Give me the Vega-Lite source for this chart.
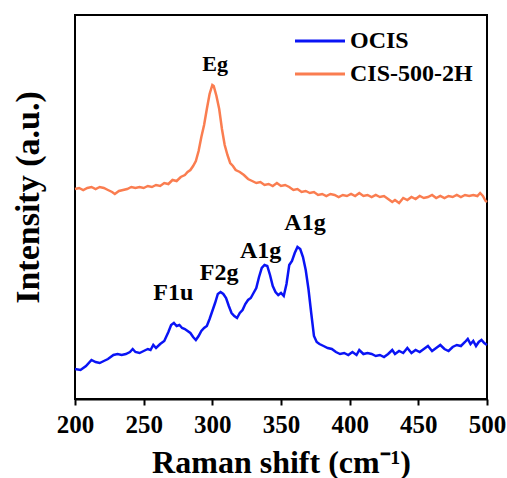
{
  "$schema": "https://vega.github.io/schema/vega-lite/v6.json",
  "width": 412,
  "height": 384,
  "autosize": {"type": "none"},
  "padding": {"left": 75, "top": 15, "right": 20, "bottom": 79},
  "background": "white",
  "config": {
    "view": {"stroke": "black", "strokeWidth": 2},
    "font": "Liberation Serif",
    "axis": {"grid": false}
  },
  "datasets": {
    "spectra": [
      {"shift":200,"intensity":210,"sample":"CIS-500-2H"},{"shift":203,"intensity":211,"sample":"CIS-500-2H"},{"shift":206,"intensity":209,"sample":"CIS-500-2H"},{"shift":209,"intensity":211,"sample":"CIS-500-2H"},{"shift":212,"intensity":212,"sample":"CIS-500-2H"},{"shift":215,"intensity":210,"sample":"CIS-500-2H"},{"shift":218,"intensity":212,"sample":"CIS-500-2H"},{"shift":221,"intensity":211,"sample":"CIS-500-2H"},{"shift":224,"intensity":209,"sample":"CIS-500-2H"},{"shift":227,"intensity":207,"sample":"CIS-500-2H"},{"shift":229,"intensity":205,"sample":"CIS-500-2H"},{"shift":232,"intensity":208,"sample":"CIS-500-2H"},{"shift":235,"intensity":209,"sample":"CIS-500-2H"},{"shift":238,"intensity":210,"sample":"CIS-500-2H"},{"shift":241,"intensity":212,"sample":"CIS-500-2H"},{"shift":244,"intensity":211,"sample":"CIS-500-2H"},{"shift":247,"intensity":212,"sample":"CIS-500-2H"},{"shift":250,"intensity":211,"sample":"CIS-500-2H"},{"shift":253,"intensity":213,"sample":"CIS-500-2H"},{"shift":256,"intensity":212,"sample":"CIS-500-2H"},{"shift":259,"intensity":214,"sample":"CIS-500-2H"},{"shift":262,"intensity":213,"sample":"CIS-500-2H"},{"shift":265,"intensity":216,"sample":"CIS-500-2H"},{"shift":268,"intensity":215,"sample":"CIS-500-2H"},{"shift":271,"intensity":219,"sample":"CIS-500-2H"},{"shift":274,"intensity":218,"sample":"CIS-500-2H"},{"shift":277,"intensity":222,"sample":"CIS-500-2H"},{"shift":280,"intensity":224,"sample":"CIS-500-2H"},{"shift":282,"intensity":227,"sample":"CIS-500-2H"},{"shift":284,"intensity":229,"sample":"CIS-500-2H"},{"shift":286,"intensity":233,"sample":"CIS-500-2H"},{"shift":288,"intensity":238,"sample":"CIS-500-2H"},{"shift":290,"intensity":248,"sample":"CIS-500-2H"},{"shift":292,"intensity":262,"sample":"CIS-500-2H"},{"shift":294,"intensity":274,"sample":"CIS-500-2H"},{"shift":296,"intensity":290,"sample":"CIS-500-2H"},{"shift":298,"intensity":305,"sample":"CIS-500-2H"},{"shift":300,"intensity":314,"sample":"CIS-500-2H"},{"shift":301,"intensity":313,"sample":"CIS-500-2H"},{"shift":303,"intensity":303,"sample":"CIS-500-2H"},{"shift":305,"intensity":290,"sample":"CIS-500-2H"},{"shift":307,"intensity":270,"sample":"CIS-500-2H"},{"shift":309,"intensity":254,"sample":"CIS-500-2H"},{"shift":311,"intensity":244,"sample":"CIS-500-2H"},{"shift":313,"intensity":236,"sample":"CIS-500-2H"},{"shift":315,"intensity":233,"sample":"CIS-500-2H"},{"shift":317,"intensity":229,"sample":"CIS-500-2H"},{"shift":320,"intensity":227,"sample":"CIS-500-2H"},{"shift":323,"intensity":224,"sample":"CIS-500-2H"},{"shift":326,"intensity":220,"sample":"CIS-500-2H"},{"shift":329,"intensity":218,"sample":"CIS-500-2H"},{"shift":332,"intensity":216,"sample":"CIS-500-2H"},{"shift":335,"intensity":217,"sample":"CIS-500-2H"},{"shift":338,"intensity":214,"sample":"CIS-500-2H"},{"shift":341,"intensity":215,"sample":"CIS-500-2H"},{"shift":344,"intensity":213,"sample":"CIS-500-2H"},{"shift":347,"intensity":216,"sample":"CIS-500-2H"},{"shift":350,"intensity":213,"sample":"CIS-500-2H"},{"shift":353,"intensity":214,"sample":"CIS-500-2H"},{"shift":356,"intensity":212,"sample":"CIS-500-2H"},{"shift":359,"intensity":209,"sample":"CIS-500-2H"},{"shift":362,"intensity":210,"sample":"CIS-500-2H"},{"shift":365,"intensity":207,"sample":"CIS-500-2H"},{"shift":368,"intensity":208,"sample":"CIS-500-2H"},{"shift":371,"intensity":206,"sample":"CIS-500-2H"},{"shift":374,"intensity":207,"sample":"CIS-500-2H"},{"shift":377,"intensity":204,"sample":"CIS-500-2H"},{"shift":380,"intensity":205,"sample":"CIS-500-2H"},{"shift":383,"intensity":203,"sample":"CIS-500-2H"},{"shift":386,"intensity":205,"sample":"CIS-500-2H"},{"shift":389,"intensity":204,"sample":"CIS-500-2H"},{"shift":392,"intensity":202,"sample":"CIS-500-2H"},{"shift":395,"intensity":204,"sample":"CIS-500-2H"},{"shift":398,"intensity":203,"sample":"CIS-500-2H"},{"shift":401,"intensity":205,"sample":"CIS-500-2H"},{"shift":404,"intensity":203,"sample":"CIS-500-2H"},{"shift":407,"intensity":206,"sample":"CIS-500-2H"},{"shift":410,"intensity":203,"sample":"CIS-500-2H"},{"shift":413,"intensity":204,"sample":"CIS-500-2H"},{"shift":416,"intensity":202,"sample":"CIS-500-2H"},{"shift":419,"intensity":204,"sample":"CIS-500-2H"},{"shift":422,"intensity":202,"sample":"CIS-500-2H"},{"shift":425,"intensity":203,"sample":"CIS-500-2H"},{"shift":428,"intensity":200,"sample":"CIS-500-2H"},{"shift":431,"intensity":197,"sample":"CIS-500-2H"},{"shift":433,"intensity":199,"sample":"CIS-500-2H"},{"shift":436,"intensity":196,"sample":"CIS-500-2H"},{"shift":439,"intensity":201,"sample":"CIS-500-2H"},{"shift":442,"intensity":199,"sample":"CIS-500-2H"},{"shift":445,"intensity":202,"sample":"CIS-500-2H"},{"shift":448,"intensity":200,"sample":"CIS-500-2H"},{"shift":451,"intensity":203,"sample":"CIS-500-2H"},{"shift":454,"intensity":201,"sample":"CIS-500-2H"},{"shift":457,"intensity":202,"sample":"CIS-500-2H"},{"shift":460,"intensity":204,"sample":"CIS-500-2H"},{"shift":463,"intensity":201,"sample":"CIS-500-2H"},{"shift":466,"intensity":203,"sample":"CIS-500-2H"},{"shift":469,"intensity":201,"sample":"CIS-500-2H"},{"shift":472,"intensity":203,"sample":"CIS-500-2H"},{"shift":475,"intensity":202,"sample":"CIS-500-2H"},{"shift":478,"intensity":204,"sample":"CIS-500-2H"},{"shift":481,"intensity":202,"sample":"CIS-500-2H"},{"shift":484,"intensity":204,"sample":"CIS-500-2H"},{"shift":487,"intensity":203,"sample":"CIS-500-2H"},{"shift":490,"intensity":204,"sample":"CIS-500-2H"},{"shift":493,"intensity":203,"sample":"CIS-500-2H"},{"shift":495,"intensity":206,"sample":"CIS-500-2H"},{"shift":497,"intensity":203,"sample":"CIS-500-2H"},{"shift":499,"intensity":198,"sample":"CIS-500-2H"},{"shift":500,"intensity":197,"sample":"CIS-500-2H"},
      {"shift":200,"intensity":30,"sample":"OCIS"},{"shift":204,"intensity":29,"sample":"OCIS"},{"shift":208,"intensity":33,"sample":"OCIS"},{"shift":212,"intensity":39,"sample":"OCIS"},{"shift":215,"intensity":37,"sample":"OCIS"},{"shift":218,"intensity":36,"sample":"OCIS"},{"shift":221,"intensity":38,"sample":"OCIS"},{"shift":224,"intensity":40,"sample":"OCIS"},{"shift":228,"intensity":44,"sample":"OCIS"},{"shift":231,"intensity":45,"sample":"OCIS"},{"shift":234,"intensity":44,"sample":"OCIS"},{"shift":237,"intensity":45,"sample":"OCIS"},{"shift":240,"intensity":47,"sample":"OCIS"},{"shift":242,"intensity":50,"sample":"OCIS"},{"shift":244,"intensity":47,"sample":"OCIS"},{"shift":247,"intensity":46,"sample":"OCIS"},{"shift":250,"intensity":48,"sample":"OCIS"},{"shift":253,"intensity":50,"sample":"OCIS"},{"shift":255,"intensity":49,"sample":"OCIS"},{"shift":257,"intensity":54,"sample":"OCIS"},{"shift":259,"intensity":51,"sample":"OCIS"},{"shift":262,"intensity":55,"sample":"OCIS"},{"shift":265,"intensity":58,"sample":"OCIS"},{"shift":268,"intensity":67,"sample":"OCIS"},{"shift":270,"intensity":74,"sample":"OCIS"},{"shift":272,"intensity":76,"sample":"OCIS"},{"shift":274,"intensity":73,"sample":"OCIS"},{"shift":276,"intensity":74,"sample":"OCIS"},{"shift":278,"intensity":71,"sample":"OCIS"},{"shift":280,"intensity":70,"sample":"OCIS"},{"shift":282,"intensity":68,"sample":"OCIS"},{"shift":284,"intensity":66,"sample":"OCIS"},{"shift":286,"intensity":62,"sample":"OCIS"},{"shift":288,"intensity":59,"sample":"OCIS"},{"shift":290,"intensity":63,"sample":"OCIS"},{"shift":292,"intensity":68,"sample":"OCIS"},{"shift":294,"intensity":71,"sample":"OCIS"},{"shift":296,"intensity":73,"sample":"OCIS"},{"shift":298,"intensity":80,"sample":"OCIS"},{"shift":300,"intensity":88,"sample":"OCIS"},{"shift":302,"intensity":96,"sample":"OCIS"},{"shift":304,"intensity":105,"sample":"OCIS"},{"shift":306,"intensity":107,"sample":"OCIS"},{"shift":308,"intensity":105,"sample":"OCIS"},{"shift":310,"intensity":101,"sample":"OCIS"},{"shift":312,"intensity":93,"sample":"OCIS"},{"shift":314,"intensity":86,"sample":"OCIS"},{"shift":316,"intensity":83,"sample":"OCIS"},{"shift":318,"intensity":81,"sample":"OCIS"},{"shift":320,"intensity":86,"sample":"OCIS"},{"shift":322,"intensity":89,"sample":"OCIS"},{"shift":324,"intensity":95,"sample":"OCIS"},{"shift":326,"intensity":99,"sample":"OCIS"},{"shift":328,"intensity":101,"sample":"OCIS"},{"shift":330,"intensity":106,"sample":"OCIS"},{"shift":332,"intensity":111,"sample":"OCIS"},{"shift":334,"intensity":122,"sample":"OCIS"},{"shift":336,"intensity":131,"sample":"OCIS"},{"shift":338,"intensity":134,"sample":"OCIS"},{"shift":340,"intensity":133,"sample":"OCIS"},{"shift":342,"intensity":124,"sample":"OCIS"},{"shift":344,"intensity":113,"sample":"OCIS"},{"shift":346,"intensity":107,"sample":"OCIS"},{"shift":348,"intensity":104,"sample":"OCIS"},{"shift":350,"intensity":106,"sample":"OCIS"},{"shift":352,"intensity":103,"sample":"OCIS"},{"shift":354,"intensity":115,"sample":"OCIS"},{"shift":356,"intensity":134,"sample":"OCIS"},{"shift":358,"intensity":138,"sample":"OCIS"},{"shift":360,"intensity":146,"sample":"OCIS"},{"shift":362,"intensity":152,"sample":"OCIS"},{"shift":364,"intensity":150,"sample":"OCIS"},{"shift":366,"intensity":142,"sample":"OCIS"},{"shift":368,"intensity":129,"sample":"OCIS"},{"shift":370,"intensity":110,"sample":"OCIS"},{"shift":372,"intensity":86,"sample":"OCIS"},{"shift":374,"intensity":63,"sample":"OCIS"},{"shift":376,"intensity":57,"sample":"OCIS"},{"shift":378,"intensity":55,"sample":"OCIS"},{"shift":381,"intensity":53,"sample":"OCIS"},{"shift":384,"intensity":51,"sample":"OCIS"},{"shift":387,"intensity":50,"sample":"OCIS"},{"shift":390,"intensity":47,"sample":"OCIS"},{"shift":393,"intensity":45,"sample":"OCIS"},{"shift":396,"intensity":46,"sample":"OCIS"},{"shift":399,"intensity":44,"sample":"OCIS"},{"shift":402,"intensity":47,"sample":"OCIS"},{"shift":405,"intensity":44,"sample":"OCIS"},{"shift":407,"intensity":49,"sample":"OCIS"},{"shift":410,"intensity":45,"sample":"OCIS"},{"shift":413,"intensity":46,"sample":"OCIS"},{"shift":416,"intensity":45,"sample":"OCIS"},{"shift":419,"intensity":43,"sample":"OCIS"},{"shift":422,"intensity":44,"sample":"OCIS"},{"shift":425,"intensity":42,"sample":"OCIS"},{"shift":428,"intensity":45,"sample":"OCIS"},{"shift":431,"intensity":49,"sample":"OCIS"},{"shift":433,"intensity":45,"sample":"OCIS"},{"shift":436,"intensity":48,"sample":"OCIS"},{"shift":439,"intensity":46,"sample":"OCIS"},{"shift":442,"intensity":51,"sample":"OCIS"},{"shift":445,"intensity":46,"sample":"OCIS"},{"shift":448,"intensity":49,"sample":"OCIS"},{"shift":451,"intensity":47,"sample":"OCIS"},{"shift":454,"intensity":50,"sample":"OCIS"},{"shift":457,"intensity":53,"sample":"OCIS"},{"shift":460,"intensity":48,"sample":"OCIS"},{"shift":463,"intensity":51,"sample":"OCIS"},{"shift":466,"intensity":54,"sample":"OCIS"},{"shift":469,"intensity":50,"sample":"OCIS"},{"shift":472,"intensity":48,"sample":"OCIS"},{"shift":475,"intensity":52,"sample":"OCIS"},{"shift":478,"intensity":54,"sample":"OCIS"},{"shift":481,"intensity":53,"sample":"OCIS"},{"shift":484,"intensity":57,"sample":"OCIS"},{"shift":486,"intensity":60,"sample":"OCIS"},{"shift":488,"intensity":55,"sample":"OCIS"},{"shift":490,"intensity":58,"sample":"OCIS"},{"shift":492,"intensity":53,"sample":"OCIS"},{"shift":494,"intensity":57,"sample":"OCIS"},{"shift":496,"intensity":59,"sample":"OCIS"},{"shift":498,"intensity":56,"sample":"OCIS"},{"shift":500,"intensity":54,"sample":"OCIS"}
    ],
    "peaks": [
      {"shift":302,"intensity":335,"label":"Eg","sample":"CIS-500-2H"},
      {"shift":271.6,"intensity":106,"label":"F1u","sample":"OCIS"},
      {"shift":304.9,"intensity":126,"label":"F2g","sample":"OCIS"},
      {"shift":335.2,"intensity":148,"label":"A1g","sample":"OCIS"},
      {"shift":367.5,"intensity":176,"label":"A1g","sample":"OCIS"}
    ]
  },
  "layer": [
    {
      "data": {"name": "spectra"},
      "mark": {"type": "line", "strokeWidth": 2.5},
      "encoding": {
        "x": {
          "field": "shift", "type": "quantitative",
          "scale": {"domain": [200, 500], "nice": false},
          "axis": {
            "title": "Raman shift (cm⁻¹)",
            "values": [200,225,250,275,300,325,350,375,400,425,450,475,500],
            "labelExpr": "datum.value % 50 == 0 ? datum.label : ''",
            "tickSize": {"condition": {"test": "datum.value % 50 == 0", "value": 6}, "value": 3},
            "tickColor": "black", "tickWidth": 2,
            "domainColor": "black", "domainWidth": 2,
            "labelOverlap": false, "labelFlush": false,
            "labelFont": "Liberation Serif", "labelFontWeight": "bold", "labelFontSize": 25, "labelColor": "black",
            "labelPadding": 7,
            "titleFont": "Liberation Serif", "titleFontWeight": "bold", "titleFontSize": 32, "titleColor": "black",
            "titlePadding": 10
          }
        },
        "y": {
          "field": "intensity", "type": "quantitative",
          "scale": {"domain": [0, 384], "nice": false},
          "axis": {
            "title": "Intensity (a.u.)",
            "ticks": false, "labels": false, "domain": false,
            "titleFont": "Liberation Serif", "titleFontWeight": "bold", "titleFontSize": 34, "titleColor": "black",
            "titlePadding": 30, "titleY": 182
          }
        },
        "color": {
          "field": "sample", "type": "nominal",
          "scale": {"domain": ["OCIS", "CIS-500-2H"], "range": ["#0A14F5", "#FA7D50"]},
          "legend": {
            "title": null, "orient": "none", "legendX": 233, "legendY": 14,
            "symbolType": "M-2.5,0H2.5", "symbolSize": 400, "symbolStrokeWidth": 3,
            "rowPadding": 9,
            "labelFont": "Liberation Serif", "labelFontWeight": "bold", "labelFontSize": 24, "labelColor": "black",
            "labelOffset": 18
          }
        }
      }
    },
    {
      "data": {"name": "peaks"},
      "transform": [{"filter": "datum.sample == 'CIS-500-2H'"}],
      "mark": {"type": "text", "font": "Liberation Serif", "fontWeight": "bold", "fontSize": 22, "color": "black", "baseline": "middle", "align": "center"},
      "encoding": {
        "x": {"field": "shift", "type": "quantitative"},
        "y": {"field": "intensity", "type": "quantitative"},
        "text": {"field": "label"}
      }
    },
    {
      "data": {"name": "peaks"},
      "transform": [{"filter": "datum.sample == 'OCIS'"}],
      "mark": {"type": "text", "font": "Liberation Serif", "fontWeight": "bold", "fontSize": 24, "color": "black", "baseline": "middle", "align": "center"},
      "encoding": {
        "x": {"field": "shift", "type": "quantitative"},
        "y": {"field": "intensity", "type": "quantitative"},
        "text": {"field": "label"}
      }
    }
  ]
}
